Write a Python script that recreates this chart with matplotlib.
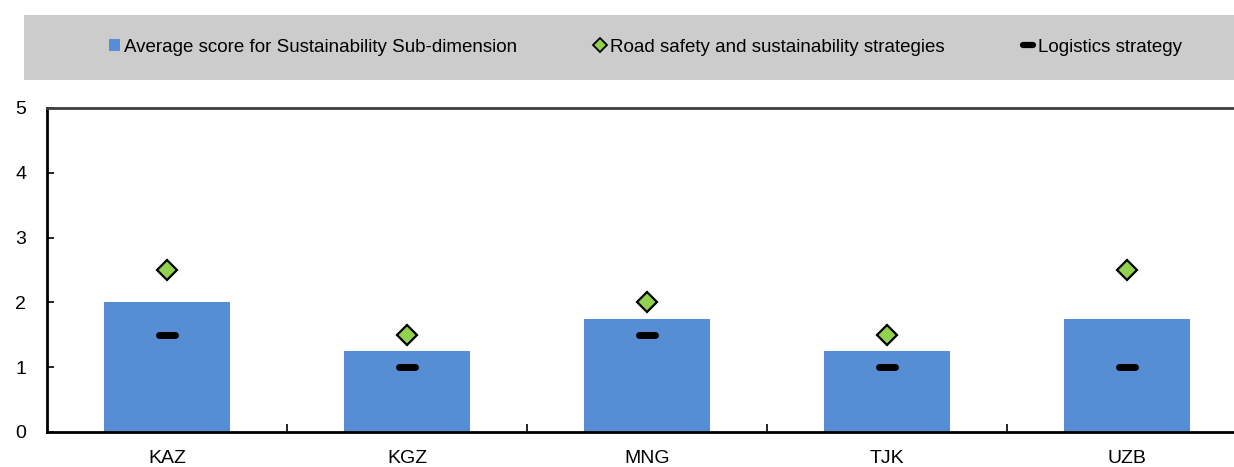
import numpy as np
import matplotlib
matplotlib.use("Agg")
import matplotlib.pyplot as plt
from matplotlib.markers import MarkerStyle
from matplotlib.patches import Rectangle

plt.rcParams['font.family'] = ['Liberation Sans', 'DejaVu Sans']

# ------------ data ------------
pays = ['KAZ', 'KGZ', 'MNG', 'TJK', 'UZB']
score_moyen = [2.0, 1.25, 1.75, 1.25, 1.75]      # Average score for Sustainability Sub-dimension
securite_routiere = [2.5, 1.5, 2.0, 1.5, 2.5]    # Road safety and sustainability strategies
logistique = [1.5, 1.0, 1.5, 1.0, 1.0]           # Logistics strategy

lab_bar = 'Average score for Sustainability Sub-dimension'
lab_diam = 'Road safety and sustainability strategies'
lab_dash = 'Logistics strategy'

# ------------ figure ------------
fig = plt.figure(figsize=(12.34, 4.67), dpi=100)
W, H = 1234, 467
ax = fig.add_axes([47 / W, 1 - 432 / H, (1247 - 47) / W, (432 - 108) / H])

x = np.arange(len(pays))
bars = ax.bar(x, score_moyen, width=0.525, color='#558ED5', label=lab_bar, zorder=2)
diam, = ax.plot(x, securite_routiere, linestyle='none', marker='D', markersize=10.5,
                markerfacecolor='#92D050', markeredgecolor='black', markeredgewidth=1.6,
                label=lab_diam, zorder=4)
dash_marker = MarkerStyle('_', capstyle='round')
dash, = ax.plot(x, logistique, linestyle='none', marker=dash_marker, markersize=11,
                markeredgecolor='black', markeredgewidth=5, label=lab_dash, zorder=3)

ax.set_xlim(-0.5, len(pays) - 0.5)
ax.set_ylim(0, 5)
ax.set_yticks(range(6))
ax.set_xticks(x)
ax.set_xticklabels(pays)
ax.set_xticks(x[:-1] + 0.5, minor=True)
ax.tick_params(axis='x', which='major', length=0, pad=13, labelsize=14)
ax.tick_params(axis='x', which='minor', direction='in', length=6, width=1.2, color='black')
ax.tick_params(axis='y', direction='in', length=5, width=1.2, pad=15, labelsize=14)

for s in ['left', 'bottom']:
    ax.spines[s].set_linewidth(2)
    ax.spines[s].set_color('black')
ax.spines['top'].set_linewidth(2)
ax.spines['top'].set_color('#404040')
ax.spines['right'].set_visible(False)

# fond gris de la legende
fig.patches.append(Rectangle((24 / W, 1 - 80 / H), 1.1, 65 / H, transform=fig.transFigure,
                             facecolor='#CCCCCC', edgecolor='none', zorder=0))

leg = fig.legend(handles=[bars, diam, dash], labels=[lab_bar, lab_diam, lab_dash],
                 loc='center left', bbox_to_anchor=(101 / W, 1 - 47 / H), ncol=3,
                 frameon=False, fontsize=13.5, handlelength=0.6, handleheight=0.6,
                 handletextpad=0.25, columnspacing=4.1, borderaxespad=0)
leg.legend_handles[1].set_markersize(7)
leg.legend_handles[1].set_markeredgewidth(1.3)
leg.legend_handles[2].set_markersize(7)
leg.legend_handles[2].set_markeredgewidth(4.5)

fig.savefig('out.png', dpi=100)
